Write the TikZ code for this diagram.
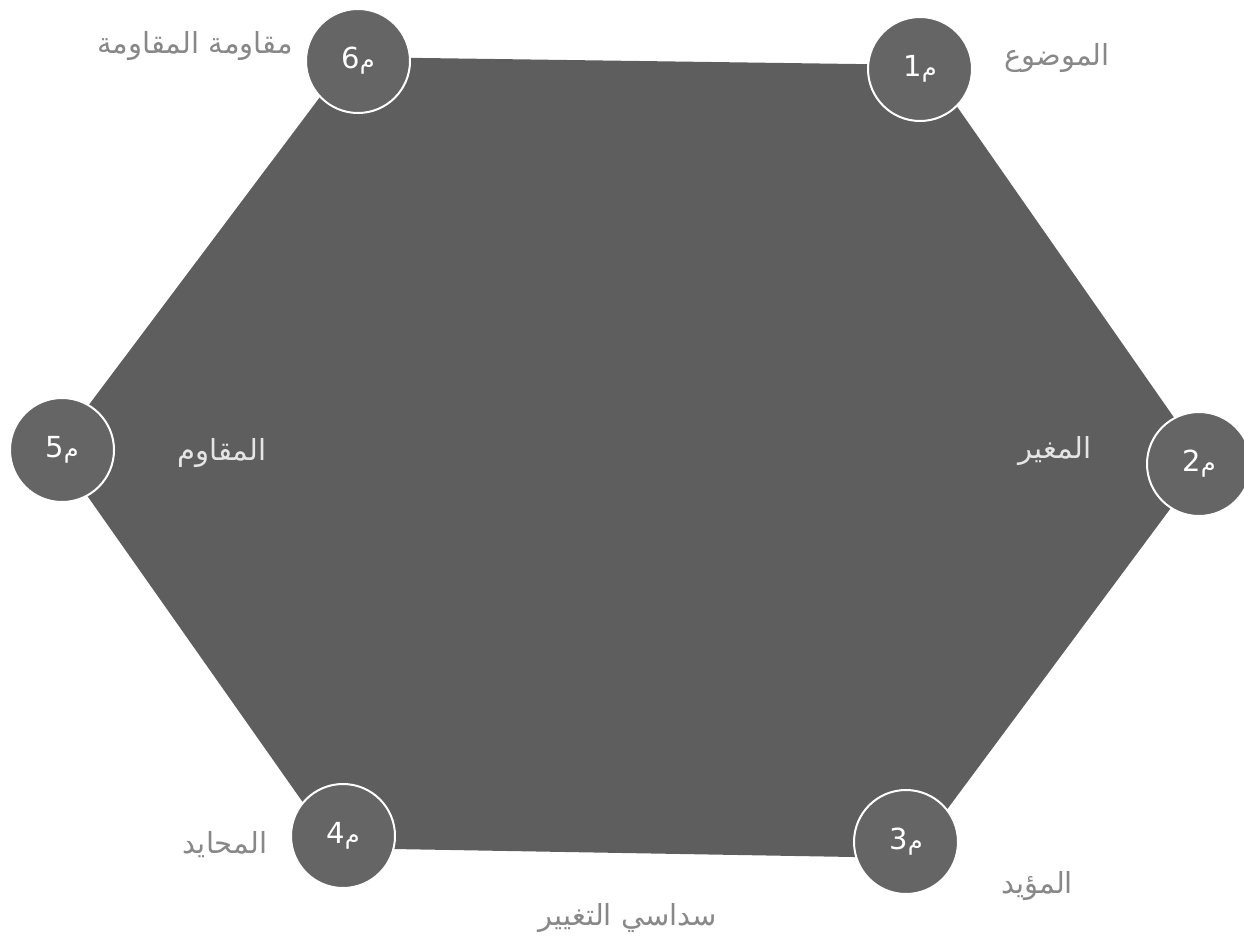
\documentclass[tikz,border=0pt]{standalone}
\usepackage{fontspec}
\setmainfont{DejaVu Sans}
\newfontfamily\arabicfont[Script=Arabic]{DejaVu Sans}
\TeXXeTstate=1
\usetikzlibrary{positioning}

\definecolor{hexgray}{HTML}{5E5E5E}
\definecolor{ringgray}{HTML}{656565}
\definecolor{labelgray}{HTML}{888888}

\newcommand{\memb}[1]{\mbox{\fontsize{29}{32}\selectfont #1}\mbox{\arabicfont\fontsize{24}{28}\selectfont م}}

\begin{document}
\begin{tikzpicture}[x=1pt,y=-1pt,
    member/.style={circle, draw=white, line width=2pt, fill=ringgray,
      minimum size=104pt, inner sep=0pt, text=white},
    role/.style={anchor=base, inner sep=0pt, text=labelgray,
      font=\arabicfont\fontsize{29}{34}\selectfont},
    inrole/.style={role, text=white!90!black}]
    \useasboundingbox (0,0) rectangle (1244,942);

    % the hexagon
    \fill[hexgray] (350,57) -- (928,65) -- (1205,462) -- (911,858)
        -- (335,848) -- (55,450) -- cycle;

    % the six members
    \node[member] (m1) at (920,69) {\memb{1}};
    \node[member] (m2) at (1199,464) {\memb{2}};
    \node[member] (m3) at (906,842) {\memb{3}};
    \node[member] (m4) at (343,836) {\memb{4}};
    \node[member] (m5) at (62,450) {\memb{5}};
    \node[member] (m6) at (358,61) {\memb{6}};

    % their roles
    \node[role] (r1) at (1057,66) {\beginR الموضوع\endR};
    \node[inrole] (r2) at (1055,458) {\beginR المغير\endR};
    \node[role] (r3) at (1037,893) {\beginR المؤيد\endR};
    \node[role] (r4) at (225,853) {\beginR المحايد\endR};
    \node[inrole] (r5) at (222,460) {\beginR المقاوم\endR};
    \node[role] (r6) at (195,53) {\beginR مقاومة المقاومة\endR};

    \node[role] (title) at (628,925) {\beginR سداسي التغيير\endR};
\end{tikzpicture}
\end{document}
